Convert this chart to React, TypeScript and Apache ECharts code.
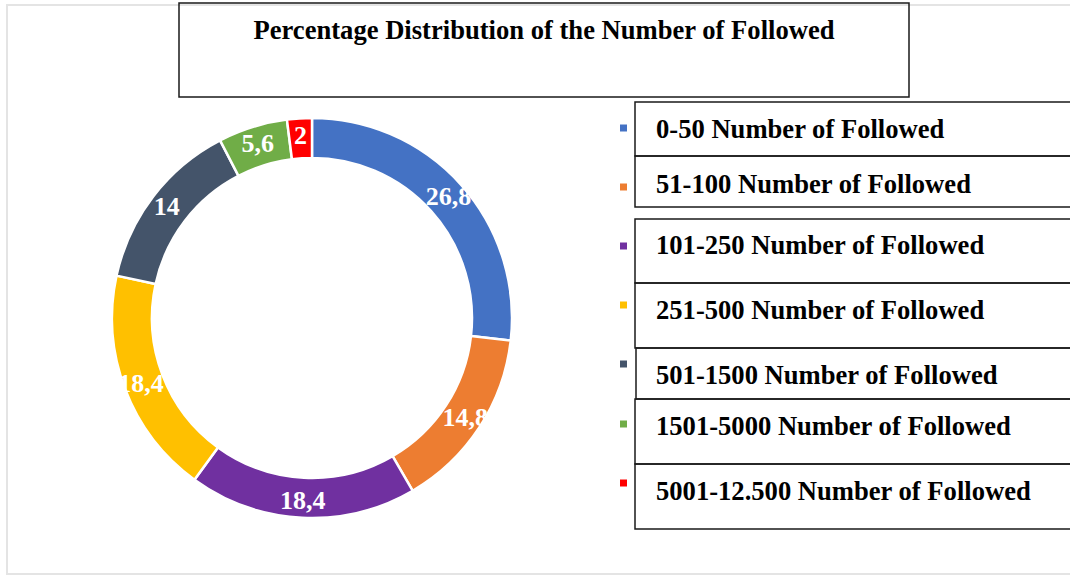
import React, { useEffect, useRef } from "react";
import * as echarts from "echarts";

const TITLE = "Percentage Distribution of the Number of Followed";
const categories = [
  "0-50 Number of Followed",
  "51-100 Number of Followed",
  "101-250 Number of Followed",
  "251-500 Number of Followed",
  "501-1500 Number of Followed",
  "1501-5000 Number of Followed",
  "5001-12.500 Number of Followed",
];
const values = [26.8, 14.8, 18.4, 18.4, 14, 5.6, 2];
const colors = ["#4472C4", "#ED7D31", "#7030A0", "#FFC000", "#44546A", "#70AD47", "#FF0000"];

// layout (not data)
const markerY = [127, 186, 245, 304, 363, 423, 482];
const textY = [129, 184, 245, 310, 375, 426, 491];
const boxes = [
  [635, 102, 54],
  [635, 156, 51],
  [635, 219, 64],
  [635, 283, 65],
  [636, 348, 51],
  [635, 399, 65],
  [635, 464, 65],
];

const SERIF = "'Liberation Serif', 'Times New Roman', serif";

export default function App() {
  const ref = useRef<HTMLDivElement>(null);
  useEffect(() => {
    if (!ref.current) return;
    const chart = echarts.init(ref.current, null, { renderer: "svg" });
    const iconLegends = categories.map((name, i) => ({
      data: [name],
      left: 618,
      top: markerY[i] - 4.5,
      padding: 0,
      icon: "rect",
      itemWidth: 9,
      itemHeight: 9,
      selectedMode: false,
      formatter: () => "",
      textStyle: { fontSize: 1, lineHeight: 1 },
    }));
    const textLegends = categories.map((name, i) => ({
      data: [name],
      left: 650,
      top: textY[i] - 15,
      padding: 0,
      icon: "rect",
      itemWidth: 0,
      itemHeight: 0,
      selectedMode: false,
      textStyle: {
        fontFamily: SERIF,
        fontSize: 26.6,
        lineHeight: 30,
        fontWeight: "bold",
        color: "#000",
      },
    }));
    const graphics: any[] = [
      {
        type: "rect",
        shape: { x: 7, y: 5, width: 1080, height: 569 },
        style: { fill: "none", stroke: "#e4e4e4", lineWidth: 2 },
        silent: true,
      },
      {
        type: "rect",
        shape: { x: 179, y: 3, width: 730, height: 94 },
        style: { fill: "none", stroke: "#1a1a1a", lineWidth: 1.5 },
        silent: true,
      },
      {
        type: "text",
        x: 544,
        y: 30,
        style: {
          text: TITLE,
          textAlign: "center",
          textVerticalAlign: "middle",
          fontFamily: SERIF,
          fontSize: 26.6,
          fontWeight: "bold",
          fill: "#000",
        },
        silent: true,
      },
      ...boxes.map(([x, y, h]) => ({
        type: "rect",
        shape: { x, y, width: 500, height: h },
        style: { fill: "none", stroke: "#1a1a1a", lineWidth: 1.5 },
        silent: true,
      })),
    ];
    chart.setOption({
      animation: false,
      color: colors,
      legend: [...iconLegends, ...textLegends],
      graphic: graphics,
      series: [
        {
          type: "pie",
          center: [312, 318],
          radius: [160, 200],
          startAngle: 90,
          clockwise: true,
          avoidLabelOverlap: false,
          itemStyle: { borderColor: "#fff", borderWidth: 2.5 },
          label: {
            show: true,
            position: "inside",
            color: "#fff",
            fontFamily: SERIF,
            fontSize: 26,
            fontWeight: "bold",
            formatter: (p: any) => String(p.value).replace(".", ","),
          },
          labelLine: { show: false },
          emphasis: { disabled: true },
          data: categories.map((name, i) => ({ name, value: values[i] })),
        },
      ],
    });
    return () => chart.dispose();
  }, []);
  return (
    <div
      ref={ref}
      style={{ position: "fixed", left: 0, top: 0, width: 1070, height: 575, background: "#fff" }}
    />
  );
}
